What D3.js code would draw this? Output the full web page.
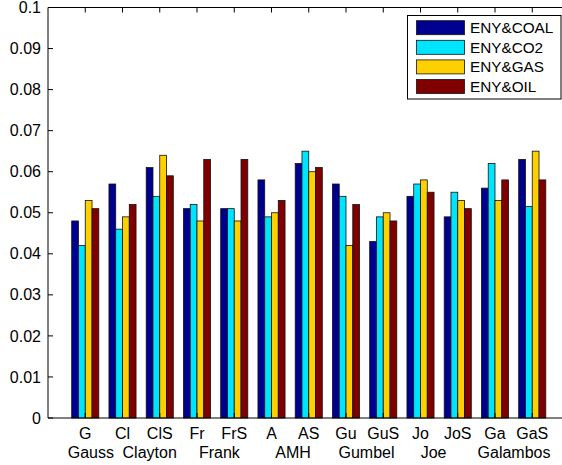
<!DOCTYPE html>
<html lang="en">
<head>
    <meta charset="UTF-8">
    <title>Copula bar chart</title>
    <script src="https://d3js.org/d3.v7.min.js"></script>
    <style>
        body { margin: 0; background: #fff; }
        svg text {
            font-family: "Liberation Sans", Arial, sans-serif;
            font-size: 16px;
            fill: #000;
        }
        svg text.legend-text { font-size: 15.3px; }
    </style>
</head>
<body>
    <svg width="562" height="465"></svg>
    <script>
        // categories (tick labels, first row)
        const categories = ["G", "Cl", "ClS", "Fr", "FrS", "A", "AS", "Gu", "GuS", "Jo", "JoS", "Ga", "GaS"];
        // second row of labels and where they sit (in category units, 1-based)
        const families = ["Gauss", "Clayton", "Frank", "AMH", "Gumbel", "Joe", "Galambos"];
        const familyAt = [1.15, 2.73, 4.6, 6.58, 8.55, 10.35, 12.51];

        const seriesNames = ["ENY&COAL", "ENY&CO2", "ENY&GAS", "ENY&OIL"];
        const coal = [0.048, 0.057, 0.061, 0.051, 0.051, 0.058, 0.062, 0.057, 0.043, 0.054, 0.049, 0.056, 0.063];
        const co2  = [0.042, 0.046, 0.054, 0.052, 0.051, 0.049, 0.065, 0.054, 0.049, 0.057, 0.055, 0.062, 0.0515];
        const gas  = [0.053, 0.049, 0.064, 0.048, 0.048, 0.050, 0.060, 0.042, 0.050, 0.058, 0.053, 0.053, 0.065];
        const oil  = [0.051, 0.052, 0.059, 0.063, 0.063, 0.053, 0.061, 0.052, 0.048, 0.055, 0.051, 0.058, 0.058];
        const series = [coal, co2, gas, oil];
        const colors = ["#000090", "#00e5ff", "#ffd000", "#800000"];

        const yTicks = [0, 0.01, 0.02, 0.03, 0.04, 0.05, 0.06, 0.07, 0.08, 0.09, 0.1];

        const svg = d3.select("svg");
        const plotLeft = 48, plotTop = 7.5, plotBottom = 418, step = 37.25;

        // x runs 0..14 like MATLAB's xlim, the right edge falls off the picture
        const x = d3.scaleLinear().domain([0, 14]).range([plotLeft, plotLeft + 14 * step]);
        const y = d3.scaleLinear().domain([0, 0.1]).range([plotBottom, plotTop]);

        const groupW = 4 / 5.5;        // MATLAB grouped-bar width
        const barW = groupW / 4;

        // bars
        series.forEach((vals, s) => {
            svg.append("g").selectAll("rect")
                .data(vals)
                .join("rect")
                .attr("x", (d, i) => x(i + 1 - groupW / 2 + s * barW))
                .attr("width", x(barW) - x(0))
                .attr("y", d => y(d))
                .attr("height", d => y(0) - y(d))
                .attr("fill", colors[s])
                .attr("stroke", "#111")
                .attr("stroke-width", 0.8);
        });

        // box lines
        const axisG = svg.append("g").attr("stroke", "#000").attr("stroke-width", 1);
        axisG.append("line").attr("x1", plotLeft).attr("x2", 562).attr("y1", plotBottom).attr("y2", plotBottom);
        axisG.append("line").attr("x1", plotLeft).attr("x2", 562).attr("y1", plotTop).attr("y2", plotTop);
        axisG.append("line").attr("x1", plotLeft).attr("x2", plotLeft).attr("y1", plotTop).attr("y2", plotBottom);

        // y ticks (inward) and labels
        yTicks.forEach(t => {
            axisG.append("line")
                .attr("x1", plotLeft).attr("x2", plotLeft + 5)
                .attr("y1", y(t)).attr("y2", y(t));
            svg.append("text")
                .attr("x", 41).attr("y", y(t))
                .attr("dy", "0.35em")
                .attr("text-anchor", "end")
                .text(t === 0 ? "0" : t.toString());
        });

        // x ticks (inward on both edges) and labels
        categories.forEach((c, i) => {
            const xi = x(i + 1);
            axisG.append("line").attr("x1", xi).attr("x2", xi).attr("y1", plotBottom).attr("y2", plotBottom - 5);
            axisG.append("line").attr("x1", xi).attr("x2", xi).attr("y1", plotTop).attr("y2", plotTop + 5);
            svg.append("text")
                .attr("x", xi).attr("y", 438.5)
                .attr("text-anchor", "middle")
                .text(c);
        });

        families.forEach((f, i) => {
            svg.append("text")
                .attr("x", x(familyAt[i])).attr("y", 457.5)
                .attr("text-anchor", "middle")
                .text(f);
        });

        // legend
        const legend = svg.append("g");
        legend.append("rect")
            .attr("x", 407.5).attr("y", 15.5)
            .attr("width", 153.5).attr("height", 83.5)
            .attr("fill", "#fff").attr("stroke", "#000");
        seriesNames.forEach((n, s) => {
            const cy = 27.7 + s * 19.6;
            legend.append("rect")
                .attr("x", 416.5).attr("y", cy - 7)
                .attr("width", 48).attr("height", 14)
                .attr("fill", colors[s])
                .attr("stroke", "#111").attr("stroke-width", 0.8);
            legend.append("text")
                .attr("class", "legend-text")
                .attr("x", 470).attr("y", cy)
                .attr("dy", "0.35em")
                .text(n);
        });
    </script>
</body>
</html>
